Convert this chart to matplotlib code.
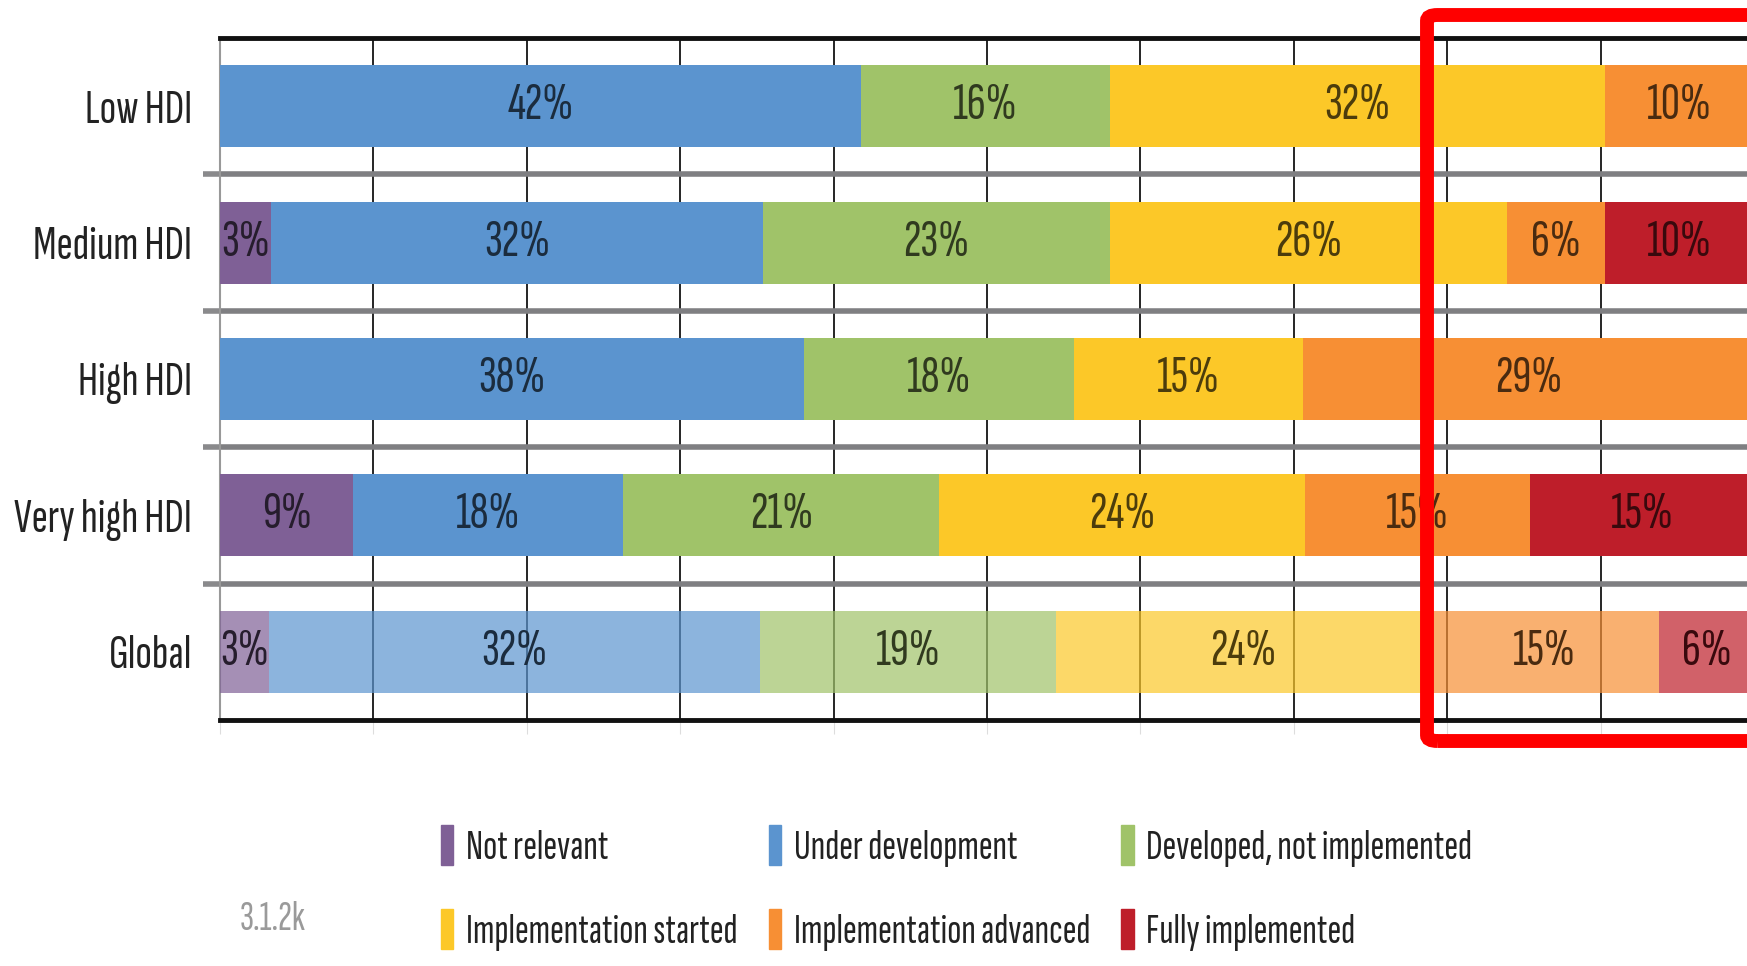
import numpy as np
import matplotlib.pyplot as plt
from matplotlib.patches import Patch, FancyBboxPatch
from matplotlib.colors import to_rgb

categories = ["Low HDI", "Medium HDI", "High HDI", "Very high HDI", "Global"]
series = ["Not relevant", "Under development", "Developed, not implemented",
          "Implementation started", "Implementation advanced", "Fully implemented"]

# percent of countries per status
not_relevant = [0.0, 3.3, 0.0, 8.7, 3.2]
under_dev = [41.8, 32.1, 38.1, 17.6, 32.0]
developed = [16.2, 22.6, 17.6, 20.6, 19.3]
impl_started = [32.3, 25.9, 14.9, 23.8, 24.4]
impl_advanced = [9.7, 6.4, 29.4, 14.7, 14.9]
fully = [0.0, 9.7, 0.0, 14.7, 6.2]

colors = ["#7f6096", "#5b94cf", "#a0c369", "#fcc828", "#f78f34", "#be1e2a"]
values = [not_relevant, under_dev, developed, impl_started, impl_advanced, fully]

narrow = ["Sofia Sans Extra Condensed", "DejaVu Sans"]

fig = plt.figure(figsize=(17.47, 9.66), dpi=100)
ax = fig.add_axes([220 / 1747, 1 - 720 / 966, 1534 / 1747, 682 / 966])

y = np.arange(len(categories))
left = np.zeros(len(categories))
for name, vals, c in zip(series, values, colors):
    vals = np.array(vals)
    bars = ax.barh(y, vals, left=left, height=0.6, color=c, label=name, zorder=3)
    bars[-1].set_alpha(0.7)  # global row is drawn lighter
    dark = tuple(np.array(to_rgb(c)) * 0.3)
    for yi, (l, v) in enumerate(zip(left, vals)):
        if v > 0:
            ax.text(l + v / 2, yi, f"{v:.0f}%", ha="center", va="center",
                    fontsize=38, color=dark, family=narrow, zorder=4)
    left += vals

ax.set_xlim(0, 100)
ax.set_ylim(len(categories) - 0.5, -0.5)
ax.set_xticks(np.arange(0, 101, 10))
ax.set_xticklabels([])
ax.tick_params(axis="x", length=10, color="#dddddd")
ax.xaxis.grid(True, color="black", lw=1.2)
ax.set_axisbelow(True)

ax.set_yticks(y)
ax.set_yticklabels(categories, fontsize=35, family=narrow, color="#222222")
ax.tick_params(axis="y", which="major", length=0, pad=20)
ax.set_yticks(y[:-1] + 0.5, minor=True)
ax.tick_params(axis="y", which="minor", length=12, width=4, color="#8a8a8c")
ax.yaxis.grid(True, which="minor", color="#7f7f82", lw=4)

for s in ["top", "bottom"]:
    ax.spines[s].set_linewidth(3.5)
    ax.spines[s].set_color("#111111")
ax.spines["left"].set_color("#999999")
ax.spines["left"].set_linewidth(1.5)
ax.spines["right"].set_visible(False)

# legend, filled column-wise so rows read as in the original
order = [0, 3, 1, 4, 2, 5]
handles = [Patch(color=colors[i], label=series[i]) for i in order]
fig.legend(handles=handles, ncol=3, loc="upper left",
           bbox_to_anchor=(420 / 1747, 1 - 804 / 966), frameon=False,
           prop={"family": narrow, "size": 30}, handlelength=0.3,
           handleheight=1.1, handletextpad=0.3, columnspacing=0.75,
           labelspacing=1.0, borderpad=0, labelcolor="#222222")

fig.text(240 / 1747, 1 - 920 / 966, "3.1.2k", fontsize=30, family=narrow,
         color="#9a9a9a", va="center")

# red highlight box on the right-hand side
box = FancyBboxPatch((1427 / 1747, 1 - 741 / 966), 0.3, 726 / 966,
                     boxstyle="round,pad=0,rounding_size=0.006",
                     transform=fig.transFigure, fill=False, ec="#ff0000",
                     lw=10, zorder=10)
fig.add_artist(box)

fig.savefig("out.png", dpi=100)
